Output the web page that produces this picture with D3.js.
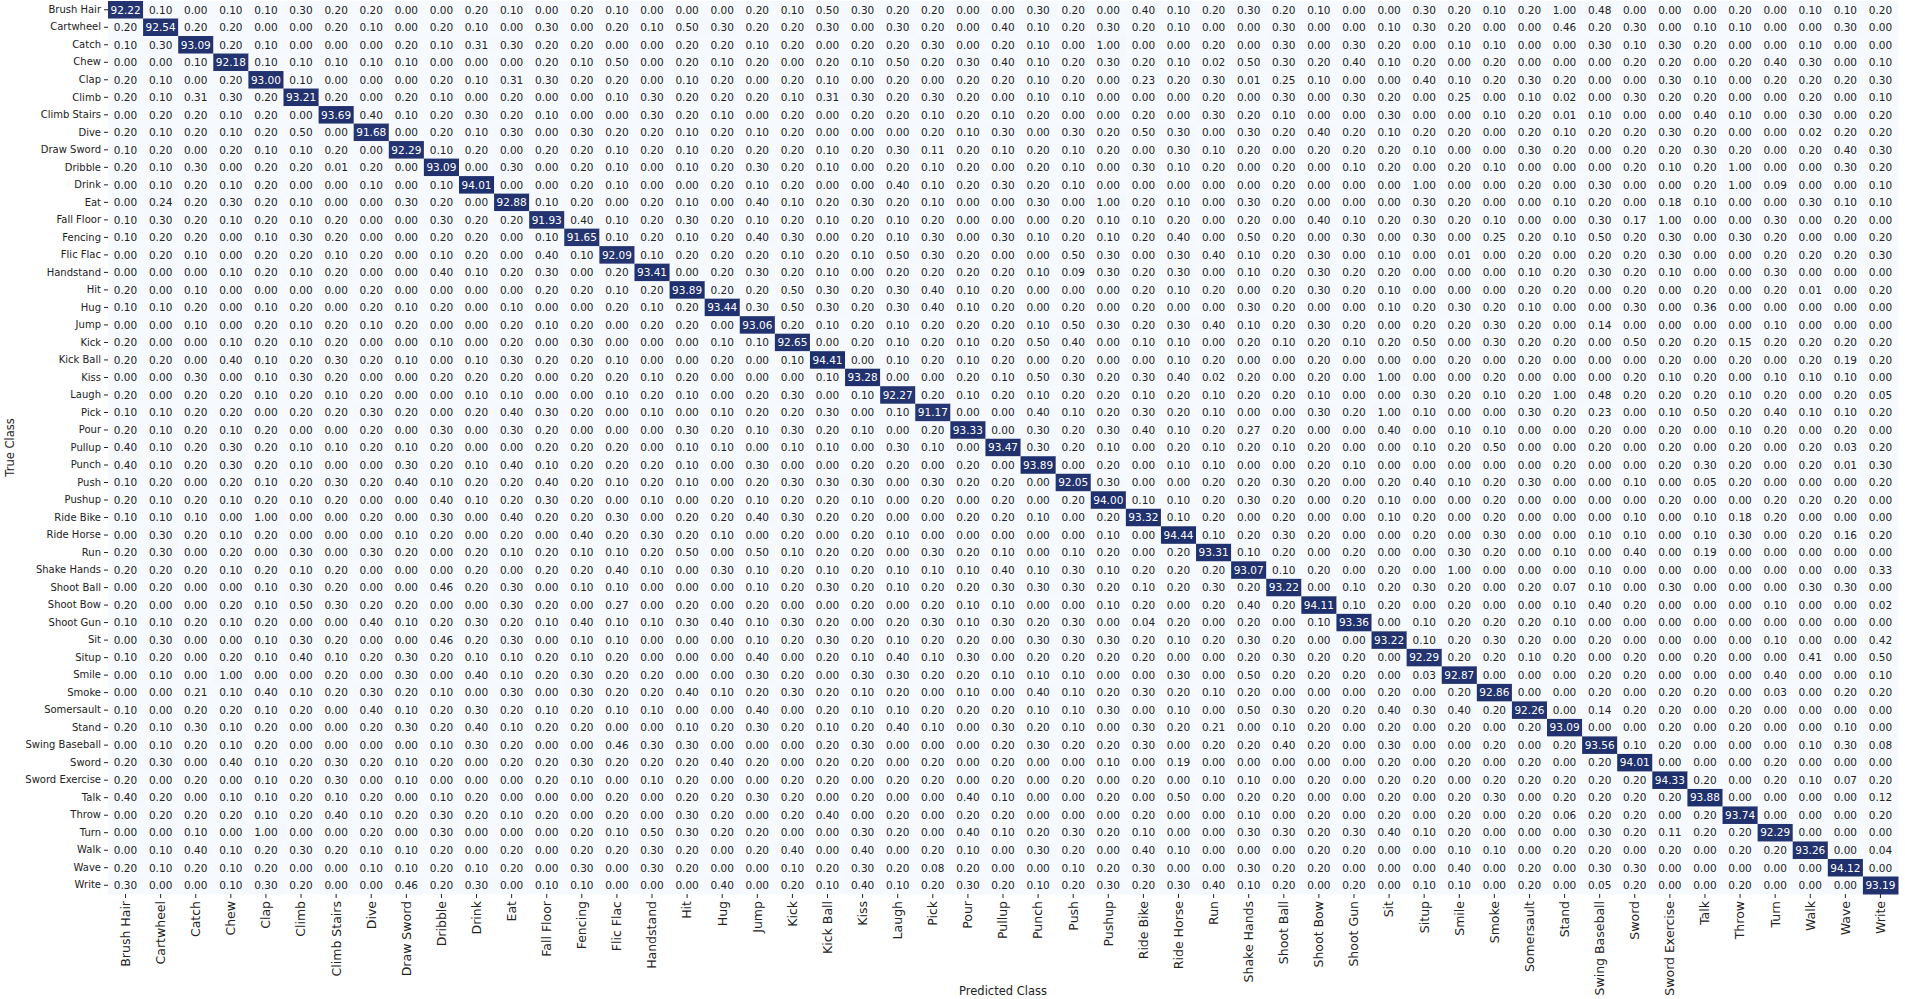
<!DOCTYPE html>
<html>
<head>
<meta charset="utf-8">
<script src="https://cdn.jsdelivr.net/npm/d3@7"></script>
<style>
  body { margin: 0; background: #fff; }
  text { font-family: "DejaVu Sans", sans-serif; fill: #222; }
</style>
</head>
<body>
<svg width="1905" height="999"></svg>
<script>
const classes = ["Brush Hair", "Cartwheel", "Catch", "Chew", "Clap", "Climb", "Climb Stairs", "Dive",
  "Draw Sword", "Dribble", "Drink", "Eat", "Fall Floor", "Fencing", "Flic Flac", "Handstand", "Hit",
  "Hug", "Jump", "Kick", "Kick Ball", "Kiss", "Laugh", "Pick", "Pour", "Pullup", "Punch", "Push",
  "Pushup", "Ride Bike", "Ride Horse", "Run", "Shake Hands", "Shoot Ball", "Shoot Bow", "Shoot Gun",
  "Sit", "Situp", "Smile", "Smoke", "Somersault", "Stand", "Swing Baseball", "Sword", "Sword Exercise",
  "Talk", "Throw", "Turn", "Walk", "Wave", "Write"];

// rows = true class, columns = predicted class (%)
const values = [
  [92.22,0.10,0.00,0.10,0.10,0.30,0.20,0.20,0.00,0.00,0.20,0.10,0.00,0.20,0.10,0.00,0.00, 0.00,0.20,0.10,0.50,0.30,0.20,0.20,0.00,0.00,0.30,0.20,0.00,0.40,0.10,0.20,0.30,0.20, 0.10,0.00,0.00,0.30,0.20,0.10,0.20,1.00,0.48,0.00,0.00,0.00,0.20,0.00,0.10,0.10,0.20],
  [0.20,92.54,0.20,0.20,0.00,0.00,0.20,0.10,0.00,0.20,0.10,0.00,0.30,0.00,0.20,0.10,0.50, 0.30,0.20,0.20,0.30,0.00,0.30,0.20,0.00,0.40,0.10,0.20,0.30,0.20,0.10,0.00,0.00,0.30, 0.00,0.00,0.10,0.30,0.20,0.00,0.00,0.46,0.20,0.30,0.00,0.10,0.10,0.00,0.00,0.30,0.00],
  [0.10,0.30,93.09,0.20,0.10,0.00,0.00,0.00,0.20,0.10,0.31,0.30,0.20,0.20,0.00,0.00,0.20, 0.20,0.10,0.20,0.00,0.20,0.20,0.30,0.00,0.20,0.10,0.00,1.00,0.00,0.00,0.20,0.00,0.30, 0.00,0.30,0.20,0.00,0.10,0.10,0.00,0.00,0.30,0.10,0.30,0.20,0.00,0.00,0.10,0.00,0.00],
  [0.00,0.00,0.10,92.18,0.10,0.10,0.10,0.10,0.10,0.00,0.00,0.00,0.20,0.10,0.50,0.00,0.20, 0.10,0.20,0.00,0.20,0.10,0.50,0.20,0.30,0.40,0.10,0.20,0.30,0.20,0.10,0.02,0.50,0.30, 0.20,0.40,0.10,0.20,0.00,0.20,0.00,0.00,0.00,0.20,0.20,0.00,0.20,0.40,0.30,0.00,0.10],
  [0.20,0.10,0.00,0.20,93.00,0.10,0.00,0.00,0.00,0.20,0.10,0.31,0.30,0.20,0.20,0.00,0.10, 0.20,0.00,0.20,0.10,0.00,0.20,0.00,0.20,0.20,0.10,0.20,0.00,0.23,0.20,0.30,0.01,0.25, 0.10,0.00,0.00,0.40,0.10,0.20,0.30,0.20,0.00,0.00,0.30,0.10,0.00,0.20,0.20,0.20,0.30],
  [0.20,0.10,0.31,0.30,0.20,93.21,0.20,0.00,0.20,0.10,0.00,0.20,0.00,0.00,0.10,0.30,0.20, 0.20,0.20,0.10,0.31,0.30,0.20,0.30,0.20,0.00,0.10,0.10,0.00,0.00,0.00,0.20,0.00,0.30, 0.00,0.30,0.20,0.00,0.25,0.00,0.10,0.02,0.00,0.30,0.20,0.20,0.00,0.00,0.20,0.00,0.10],
  [0.00,0.20,0.20,0.10,0.20,0.00,93.69,0.40,0.10,0.20,0.30,0.20,0.10,0.00,0.00,0.30,0.20, 0.10,0.00,0.20,0.00,0.20,0.20,0.10,0.20,0.10,0.20,0.00,0.00,0.20,0.00,0.30,0.20,0.10, 0.00,0.00,0.30,0.00,0.00,0.10,0.20,0.01,0.10,0.00,0.00,0.40,0.10,0.00,0.30,0.00,0.20],
  [0.20,0.10,0.20,0.10,0.20,0.50,0.00,91.68,0.00,0.20,0.10,0.30,0.00,0.30,0.20,0.20,0.10, 0.20,0.10,0.20,0.00,0.00,0.00,0.20,0.10,0.30,0.00,0.30,0.20,0.50,0.30,0.00,0.30,0.20, 0.40,0.20,0.10,0.20,0.20,0.00,0.20,0.10,0.20,0.20,0.30,0.20,0.00,0.00,0.02,0.20,0.20],
  [0.10,0.20,0.00,0.20,0.10,0.10,0.20,0.00,92.29,0.10,0.20,0.00,0.20,0.20,0.10,0.20,0.10, 0.20,0.20,0.20,0.10,0.20,0.30,0.11,0.20,0.10,0.20,0.10,0.20,0.00,0.30,0.10,0.20,0.00, 0.20,0.20,0.20,0.10,0.00,0.00,0.30,0.20,0.00,0.20,0.20,0.30,0.20,0.00,0.20,0.40,0.30],
  [0.20,0.10,0.30,0.00,0.20,0.20,0.01,0.20,0.00,93.09,0.00,0.30,0.00,0.20,0.10,0.00,0.10, 0.20,0.30,0.20,0.10,0.00,0.20,0.10,0.20,0.00,0.20,0.10,0.00,0.30,0.10,0.20,0.00,0.20, 0.00,0.10,0.20,0.00,0.20,0.10,0.00,0.00,0.00,0.20,0.10,0.20,1.00,0.00,0.00,0.30,0.20],
  [0.00,0.10,0.20,0.10,0.20,0.00,0.00,0.10,0.00,0.10,94.01,0.00,0.00,0.20,0.10,0.00,0.00, 0.20,0.10,0.20,0.00,0.00,0.40,0.10,0.20,0.30,0.20,0.10,0.00,0.00,0.00,0.00,0.00,0.20, 0.00,0.00,0.00,1.00,0.00,0.00,0.20,0.00,0.30,0.00,0.00,0.20,1.00,0.09,0.00,0.00,0.10],
  [0.00,0.24,0.20,0.30,0.20,0.10,0.00,0.00,0.30,0.20,0.00,92.88,0.10,0.20,0.00,0.20,0.10, 0.00,0.40,0.10,0.20,0.30,0.20,0.10,0.00,0.00,0.30,0.00,1.00,0.20,0.10,0.00,0.30,0.20, 0.00,0.00,0.00,0.30,0.20,0.00,0.00,0.10,0.20,0.00,0.18,0.10,0.00,0.00,0.30,0.10,0.10],
  [0.10,0.30,0.20,0.10,0.20,0.10,0.20,0.00,0.00,0.30,0.20,0.20,91.93,0.40,0.10,0.20,0.30, 0.20,0.10,0.20,0.10,0.20,0.10,0.20,0.00,0.00,0.00,0.20,0.10,0.10,0.20,0.00,0.20,0.00, 0.40,0.10,0.20,0.30,0.20,0.10,0.00,0.00,0.30,0.17,1.00,0.00,0.00,0.30,0.00,0.20,0.00],
  [0.10,0.20,0.20,0.00,0.10,0.30,0.20,0.00,0.00,0.20,0.20,0.00,0.10,91.65,0.10,0.20,0.10, 0.20,0.40,0.30,0.00,0.20,0.10,0.30,0.00,0.30,0.10,0.20,0.10,0.20,0.40,0.00,0.50,0.20, 0.00,0.30,0.00,0.30,0.00,0.25,0.20,0.10,0.50,0.20,0.30,0.00,0.30,0.20,0.00,0.00,0.20],
  [0.00,0.20,0.10,0.00,0.20,0.20,0.10,0.20,0.00,0.10,0.20,0.00,0.40,0.10,92.09,0.10,0.20, 0.20,0.20,0.10,0.20,0.10,0.50,0.30,0.20,0.00,0.00,0.50,0.30,0.00,0.30,0.40,0.10,0.20, 0.30,0.00,0.10,0.00,0.01,0.00,0.20,0.00,0.20,0.20,0.30,0.00,0.00,0.20,0.20,0.20,0.30],
  [0.00,0.00,0.00,0.10,0.20,0.10,0.20,0.00,0.00,0.40,0.10,0.20,0.30,0.00,0.20,93.41,0.00, 0.20,0.30,0.20,0.10,0.00,0.20,0.20,0.20,0.20,0.10,0.09,0.30,0.20,0.30,0.00,0.10,0.20, 0.30,0.20,0.20,0.00,0.00,0.00,0.10,0.20,0.30,0.20,0.10,0.00,0.00,0.30,0.00,0.00,0.00],
  [0.20,0.00,0.10,0.00,0.00,0.00,0.00,0.20,0.00,0.00,0.00,0.00,0.20,0.20,0.10,0.20,93.89, 0.20,0.20,0.50,0.30,0.20,0.30,0.40,0.10,0.20,0.00,0.00,0.00,0.20,0.10,0.20,0.00,0.20, 0.30,0.20,0.10,0.00,0.00,0.00,0.20,0.20,0.00,0.20,0.00,0.20,0.00,0.20,0.01,0.00,0.20],
  [0.10,0.10,0.20,0.00,0.10,0.20,0.00,0.20,0.10,0.20,0.00,0.10,0.00,0.00,0.20,0.10,0.20, 93.44,0.30,0.50,0.30,0.20,0.30,0.40,0.10,0.20,0.00,0.20,0.00,0.20,0.00,0.00,0.30,0.20, 0.00,0.00,0.10,0.20,0.30,0.20,0.10,0.00,0.00,0.30,0.00,0.36,0.00,0.00,0.00,0.00,0.00],
  [0.00,0.00,0.10,0.00,0.20,0.10,0.20,0.10,0.20,0.00,0.00,0.20,0.10,0.20,0.00,0.20,0.20, 0.00,93.06,0.20,0.10,0.20,0.10,0.20,0.20,0.20,0.10,0.50,0.30,0.20,0.30,0.40,0.10,0.20, 0.30,0.20,0.00,0.20,0.20,0.30,0.20,0.00,0.14,0.00,0.00,0.00,0.00,0.10,0.00,0.00,0.00],
  [0.20,0.00,0.00,0.10,0.20,0.10,0.20,0.00,0.00,0.10,0.00,0.20,0.00,0.30,0.00,0.00,0.00, 0.10,0.10,92.65,0.00,0.20,0.10,0.20,0.10,0.20,0.50,0.40,0.00,0.10,0.10,0.00,0.20,0.10, 0.20,0.10,0.20,0.50,0.00,0.30,0.20,0.20,0.00,0.50,0.20,0.20,0.15,0.20,0.20,0.20,0.20],
  [0.20,0.20,0.00,0.40,0.10,0.20,0.30,0.20,0.10,0.00,0.10,0.30,0.20,0.20,0.10,0.00,0.00, 0.20,0.00,0.10,94.41,0.00,0.10,0.20,0.10,0.20,0.00,0.20,0.00,0.00,0.10,0.20,0.00,0.00, 0.20,0.00,0.00,0.00,0.20,0.00,0.20,0.00,0.00,0.00,0.20,0.00,0.20,0.00,0.20,0.19,0.20],
  [0.00,0.00,0.30,0.00,0.10,0.30,0.20,0.00,0.00,0.20,0.20,0.20,0.00,0.20,0.20,0.10,0.20, 0.00,0.00,0.00,0.10,93.28,0.00,0.00,0.20,0.10,0.50,0.30,0.20,0.30,0.40,0.02,0.20,0.00, 0.20,0.00,1.00,0.00,0.00,0.20,0.00,0.00,0.00,0.20,0.10,0.20,0.00,0.10,0.10,0.10,0.00],
  [0.20,0.00,0.20,0.20,0.10,0.20,0.10,0.20,0.00,0.00,0.10,0.10,0.00,0.00,0.10,0.20,0.10, 0.00,0.20,0.30,0.00,0.10,92.27,0.20,0.10,0.20,0.10,0.20,0.20,0.10,0.20,0.10,0.20,0.20, 0.10,0.00,0.00,0.30,0.20,0.10,0.20,1.00,0.48,0.20,0.20,0.20,0.10,0.20,0.00,0.20,0.05],
  [0.10,0.10,0.20,0.20,0.00,0.20,0.20,0.30,0.20,0.00,0.20,0.40,0.30,0.20,0.00,0.10,0.00, 0.10,0.20,0.20,0.30,0.00,0.10,91.17,0.00,0.00,0.40,0.10,0.20,0.30,0.20,0.10,0.00,0.00, 0.30,0.20,1.00,0.10,0.00,0.00,0.30,0.20,0.23,0.00,0.10,0.50,0.20,0.40,0.10,0.10,0.20],
  [0.20,0.10,0.20,0.10,0.20,0.00,0.00,0.20,0.00,0.30,0.00,0.30,0.20,0.00,0.00,0.00,0.30, 0.20,0.10,0.30,0.20,0.10,0.00,0.20,93.33,0.00,0.30,0.20,0.30,0.40,0.10,0.20,0.27,0.20, 0.00,0.00,0.40,0.00,0.10,0.10,0.00,0.00,0.20,0.00,0.20,0.00,0.10,0.20,0.00,0.20,0.00],
  [0.40,0.10,0.20,0.30,0.20,0.10,0.10,0.20,0.10,0.20,0.00,0.00,0.20,0.20,0.20,0.00,0.10, 0.10,0.00,0.10,0.10,0.00,0.30,0.10,0.00,93.47,0.30,0.20,0.10,0.00,0.20,0.10,0.20,0.10, 0.20,0.00,0.00,0.10,0.20,0.50,0.00,0.00,0.20,0.00,0.20,0.00,0.20,0.00,0.20,0.03,0.20],
  [0.40,0.10,0.20,0.30,0.20,0.10,0.00,0.00,0.30,0.20,0.10,0.40,0.10,0.20,0.20,0.20,0.10, 0.00,0.30,0.00,0.00,0.20,0.20,0.00,0.20,0.00,93.89,0.00,0.20,0.00,0.10,0.10,0.00,0.00, 0.20,0.10,0.00,0.00,0.00,0.00,0.00,0.20,0.00,0.00,0.20,0.30,0.20,0.00,0.20,0.01,0.30],
  [0.10,0.20,0.00,0.20,0.10,0.20,0.30,0.20,0.40,0.10,0.20,0.20,0.40,0.20,0.10,0.20,0.10, 0.00,0.20,0.30,0.30,0.30,0.00,0.30,0.20,0.20,0.00,92.05,0.30,0.00,0.00,0.20,0.20,0.30, 0.20,0.00,0.20,0.40,0.10,0.20,0.30,0.00,0.00,0.10,0.00,0.05,0.20,0.00,0.00,0.00,0.20],
  [0.20,0.10,0.20,0.10,0.20,0.10,0.20,0.00,0.00,0.40,0.10,0.20,0.30,0.20,0.00,0.10,0.00, 0.20,0.10,0.20,0.20,0.10,0.00,0.20,0.00,0.20,0.00,0.20,94.00,0.10,0.10,0.20,0.30,0.20, 0.00,0.20,0.10,0.00,0.00,0.20,0.00,0.00,0.00,0.00,0.20,0.00,0.00,0.20,0.20,0.20,0.00],
  [0.10,0.10,0.10,0.00,1.00,0.00,0.00,0.20,0.00,0.30,0.00,0.40,0.20,0.20,0.30,0.00,0.20, 0.20,0.40,0.30,0.20,0.20,0.00,0.00,0.20,0.20,0.10,0.00,0.20,93.32,0.10,0.20,0.00,0.20, 0.00,0.00,0.10,0.20,0.00,0.20,0.00,0.00,0.00,0.10,0.00,0.10,0.18,0.20,0.00,0.00,0.00],
  [0.00,0.30,0.20,0.10,0.20,0.00,0.00,0.00,0.10,0.20,0.00,0.20,0.00,0.40,0.20,0.30,0.20, 0.10,0.00,0.20,0.00,0.20,0.10,0.00,0.00,0.00,0.00,0.00,0.10,0.00,94.44,0.10,0.20,0.30, 0.20,0.00,0.00,0.20,0.00,0.30,0.00,0.00,0.10,0.10,0.00,0.10,0.30,0.00,0.20,0.16,0.20],
  [0.20,0.30,0.00,0.20,0.00,0.30,0.00,0.30,0.20,0.00,0.20,0.10,0.20,0.10,0.10,0.20,0.50, 0.00,0.50,0.10,0.20,0.20,0.00,0.30,0.20,0.10,0.00,0.10,0.20,0.00,0.20,93.31,0.10,0.20, 0.00,0.20,0.00,0.00,0.30,0.20,0.00,0.10,0.00,0.40,0.00,0.19,0.00,0.00,0.00,0.00,0.00],
  [0.20,0.20,0.20,0.10,0.20,0.10,0.20,0.00,0.00,0.00,0.20,0.00,0.20,0.20,0.40,0.10,0.00, 0.30,0.10,0.20,0.10,0.20,0.10,0.10,0.10,0.40,0.10,0.30,0.10,0.20,0.20,0.20,93.07,0.10, 0.20,0.00,0.20,0.00,1.00,0.00,0.00,0.00,0.10,0.00,0.00,0.00,0.00,0.00,0.00,0.00,0.33],
  [0.00,0.20,0.00,0.00,0.10,0.30,0.20,0.00,0.00,0.46,0.20,0.30,0.00,0.10,0.10,0.00,0.00, 0.00,0.10,0.20,0.30,0.20,0.10,0.20,0.20,0.30,0.30,0.30,0.20,0.10,0.20,0.30,0.20,93.22, 0.00,0.10,0.20,0.30,0.20,0.00,0.20,0.07,0.10,0.00,0.30,0.00,0.00,0.00,0.30,0.30,0.00],
  [0.20,0.00,0.00,0.20,0.10,0.50,0.30,0.20,0.20,0.00,0.00,0.30,0.20,0.00,0.27,0.00,0.20, 0.00,0.20,0.00,0.00,0.20,0.00,0.20,0.10,0.10,0.00,0.00,0.10,0.20,0.00,0.20,0.40,0.20, 94.11,0.10,0.20,0.00,0.20,0.00,0.00,0.10,0.40,0.20,0.00,0.00,0.00,0.10,0.00,0.00,0.02],
  [0.10,0.10,0.20,0.10,0.20,0.00,0.00,0.40,0.10,0.20,0.30,0.20,0.10,0.40,0.10,0.10,0.30, 0.40,0.10,0.30,0.20,0.00,0.20,0.30,0.10,0.30,0.20,0.30,0.00,0.04,0.20,0.00,0.20,0.00, 0.10,93.36,0.00,0.10,0.20,0.20,0.20,0.10,0.00,0.00,0.00,0.00,0.00,0.00,0.00,0.00,0.00],
  [0.00,0.30,0.00,0.00,0.10,0.30,0.20,0.00,0.00,0.46,0.20,0.30,0.00,0.10,0.10,0.00,0.00, 0.00,0.10,0.20,0.30,0.20,0.10,0.20,0.20,0.00,0.30,0.30,0.30,0.20,0.10,0.20,0.30,0.20, 0.00,0.00,93.22,0.10,0.20,0.30,0.20,0.00,0.20,0.00,0.00,0.00,0.00,0.10,0.00,0.00,0.42],
  [0.10,0.20,0.00,0.20,0.10,0.40,0.10,0.20,0.30,0.20,0.10,0.10,0.20,0.10,0.20,0.00,0.00, 0.00,0.40,0.00,0.20,0.10,0.40,0.10,0.30,0.00,0.20,0.20,0.20,0.20,0.00,0.00,0.20,0.30, 0.20,0.20,0.00,92.29,0.20,0.20,0.10,0.20,0.00,0.20,0.00,0.20,0.00,0.00,0.41,0.00,0.50],
  [0.00,0.10,0.00,1.00,0.00,0.00,0.20,0.00,0.30,0.00,0.40,0.10,0.20,0.30,0.20,0.20,0.00, 0.00,0.30,0.20,0.00,0.30,0.30,0.20,0.20,0.10,0.10,0.10,0.00,0.00,0.30,0.00,0.50,0.20, 0.20,0.20,0.00,0.03,92.87,0.00,0.00,0.00,0.20,0.20,0.00,0.00,0.00,0.40,0.00,0.00,0.10],
  [0.00,0.00,0.21,0.10,0.40,0.10,0.20,0.30,0.20,0.10,0.00,0.30,0.00,0.30,0.20,0.20,0.40, 0.10,0.20,0.30,0.20,0.10,0.20,0.00,0.10,0.00,0.40,0.10,0.20,0.30,0.20,0.10,0.20,0.00, 0.00,0.00,0.20,0.00,0.20,92.86,0.00,0.00,0.20,0.00,0.20,0.20,0.00,0.03,0.00,0.20,0.20],
  [0.10,0.00,0.20,0.20,0.10,0.20,0.00,0.40,0.10,0.20,0.30,0.20,0.10,0.20,0.10,0.10,0.00, 0.00,0.40,0.00,0.20,0.10,0.10,0.20,0.20,0.20,0.10,0.10,0.30,0.00,0.10,0.00,0.50,0.30, 0.20,0.20,0.40,0.30,0.40,0.20,92.26,0.00,0.14,0.20,0.20,0.00,0.20,0.00,0.00,0.00,0.00],
  [0.20,0.10,0.30,0.10,0.20,0.00,0.00,0.20,0.30,0.20,0.40,0.10,0.20,0.20,0.00,0.00,0.10, 0.20,0.30,0.20,0.10,0.20,0.40,0.10,0.00,0.30,0.20,0.10,0.00,0.30,0.20,0.21,0.00,0.10, 0.20,0.00,0.20,0.00,0.20,0.00,0.20,93.09,0.00,0.00,0.20,0.00,0.20,0.00,0.00,0.10,0.00],
  [0.00,0.10,0.20,0.10,0.20,0.00,0.00,0.00,0.00,0.10,0.30,0.20,0.00,0.00,0.46,0.30,0.30, 0.00,0.00,0.00,0.20,0.30,0.00,0.00,0.00,0.20,0.30,0.20,0.20,0.30,0.00,0.20,0.20,0.40, 0.20,0.00,0.30,0.00,0.00,0.20,0.00,0.20,93.56,0.10,0.20,0.00,0.00,0.00,0.10,0.30,0.08],
  [0.20,0.30,0.00,0.40,0.10,0.20,0.30,0.20,0.10,0.20,0.00,0.20,0.20,0.30,0.20,0.20,0.20, 0.40,0.20,0.00,0.20,0.20,0.00,0.20,0.00,0.20,0.00,0.00,0.10,0.00,0.19,0.00,0.00,0.00, 0.00,0.00,0.20,0.00,0.20,0.00,0.20,0.00,0.20,94.01,0.00,0.00,0.00,0.20,0.00,0.00,0.00],
  [0.20,0.00,0.20,0.00,0.10,0.20,0.30,0.00,0.10,0.00,0.00,0.00,0.20,0.10,0.00,0.10,0.20, 0.00,0.00,0.20,0.20,0.00,0.20,0.20,0.00,0.20,0.00,0.20,0.00,0.20,0.00,0.10,0.10,0.00, 0.20,0.00,0.20,0.20,0.00,0.20,0.20,0.20,0.20,0.20,94.33,0.20,0.00,0.20,0.10,0.07,0.20],
  [0.40,0.20,0.00,0.10,0.10,0.20,0.10,0.20,0.00,0.10,0.20,0.00,0.00,0.00,0.20,0.00,0.20, 0.20,0.30,0.20,0.00,0.20,0.00,0.00,0.40,0.10,0.00,0.00,0.20,0.00,0.50,0.00,0.20,0.20, 0.00,0.00,0.20,0.00,0.20,0.30,0.00,0.20,0.20,0.20,0.20,93.88,0.00,0.00,0.00,0.00,0.12],
  [0.00,0.20,0.20,0.20,0.10,0.20,0.40,0.10,0.20,0.30,0.20,0.10,0.20,0.00,0.20,0.00,0.30, 0.20,0.00,0.20,0.40,0.00,0.20,0.00,0.20,0.20,0.00,0.00,0.00,0.20,0.00,0.00,0.10,0.00, 0.20,0.00,0.20,0.00,0.20,0.00,0.20,0.06,0.20,0.20,0.00,0.20,93.74,0.00,0.00,0.00,0.20],
  [0.00,0.00,0.10,0.00,1.00,0.00,0.00,0.20,0.00,0.30,0.00,0.00,0.00,0.20,0.10,0.50,0.30, 0.20,0.20,0.00,0.00,0.30,0.20,0.00,0.40,0.10,0.20,0.30,0.20,0.10,0.00,0.00,0.30,0.30, 0.20,0.30,0.40,0.10,0.20,0.00,0.00,0.00,0.30,0.20,0.11,0.20,0.20,92.29,0.00,0.00,0.00],
  [0.00,0.10,0.40,0.10,0.20,0.30,0.20,0.10,0.10,0.20,0.00,0.20,0.00,0.20,0.20,0.30,0.20, 0.00,0.20,0.40,0.00,0.40,0.00,0.20,0.10,0.00,0.30,0.20,0.00,0.40,0.10,0.00,0.00,0.00, 0.20,0.20,0.00,0.00,0.10,0.10,0.00,0.20,0.20,0.00,0.20,0.00,0.20,0.20,93.26,0.00,0.04],
  [0.20,0.10,0.20,0.10,0.20,0.00,0.00,0.10,0.10,0.20,0.10,0.20,0.00,0.30,0.00,0.30,0.20, 0.00,0.00,0.10,0.20,0.30,0.20,0.08,0.20,0.00,0.00,0.10,0.20,0.30,0.00,0.00,0.30,0.20, 0.20,0.00,0.00,0.00,0.40,0.00,0.20,0.00,0.30,0.30,0.00,0.00,0.00,0.00,0.00,94.12,0.00],
  [0.30,0.00,0.00,0.10,0.30,0.20,0.00,0.00,0.46,0.20,0.30,0.00,0.10,0.10,0.00,0.00,0.00, 0.40,0.00,0.20,0.10,0.40,0.10,0.20,0.30,0.20,0.10,0.20,0.30,0.20,0.30,0.40,0.10,0.20, 0.00,0.20,0.00,0.10,0.10,0.00,0.20,0.00,0.05,0.20,0.00,0.00,0.20,0.00,0.00,0.00,93.19]
];

const svg = d3.select("svg");
const mLeft = 108, mRight = 1898, mTop = 1, mBottom = 894;

values.forEach((r, i) => { if (r.length !== classes.length) console.warn("row", i, r.length); });

const x = d3.scaleBand().domain(classes).range([mLeft, mRight]);
const y = d3.scaleBand().domain(classes).range([mTop, mBottom]);

const maxVal = d3.max(values, r => d3.max(r));
const color = d3.scaleLinear()
    .domain([0, maxVal])
    .range(["#f6fafe", "#1e2f6d"]);

const cells = [];
values.forEach((row, i) => row.forEach((v, j) => {
    cells.push({ t: classes[i], p: classes[j], v: v });
}));

const g = svg.append("g");

g.selectAll("rect")
    .data(cells)
    .enter().append("rect")
    .attr("x", d => x(d.p))
    .attr("y", d => y(d.t))
    .attr("width", x.bandwidth() + 0.5)
    .attr("height", y.bandwidth() + 0.5)
    .attr("fill", d => color(d.v));

g.selectAll("text")
    .data(cells)
    .enter().append("text")
    .attr("x", d => x(d.p) + x.bandwidth() / 2)
    .attr("y", d => y(d.t) + y.bandwidth() / 2)
    .attr("dy", "0.36em")
    .attr("text-anchor", "middle")
    .style("font-size", "10.5px")
    .style("fill", d => d.v > maxVal / 2 ? "#ffffff" : "#222")
    .text(d => d3.format(".2f")(d.v));

// axes
const yAxis = svg.append("g")
    .attr("transform", `translate(${mLeft},0)`)
    .call(d3.axisLeft(y).tickSize(4).tickPadding(3));
yAxis.select(".domain").remove();
yAxis.selectAll("text").style("font-size", "10px").style("fill", "#222");
yAxis.selectAll("line").attr("stroke", "#222");

const xAxis = svg.append("g")
    .attr("transform", `translate(0,${mBottom})`)
    .call(d3.axisBottom(x).tickSize(4).tickPadding(3));
xAxis.select(".domain").remove();
xAxis.selectAll("line").attr("stroke", "#222");
xAxis.selectAll("text")
    .style("font-size", "12.5px")
    .style("fill", "#222")
    .attr("transform", "rotate(-90)")
    .attr("text-anchor", "end")
    .attr("x", -7)
    .attr("y", 0)
    .attr("dy", "0.35em");

// axis titles
svg.append("text")
    .attr("transform", `translate(14,${(mTop + mBottom) / 2}) rotate(-90)`)
    .attr("text-anchor", "middle")
    .style("font-size", "11.5px")
    .text("True Class");

svg.append("text")
    .attr("x", (mLeft + mRight) / 2)
    .attr("y", 995)
    .attr("text-anchor", "middle")
    .style("font-size", "11.5px")
    .text("Predicted Class");
</script>
</body>
</html>
